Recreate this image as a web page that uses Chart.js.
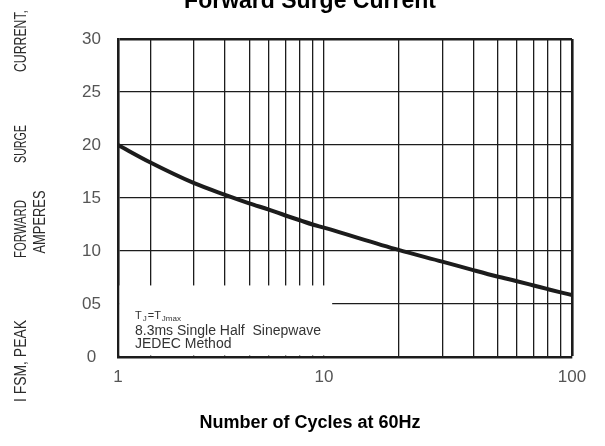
<!DOCTYPE html>
<html>
<head>
<meta charset="utf-8">
<script src="https://cdn.jsdelivr.net/npm/chart.js@4.4.1/dist/chart.umd.min.js"></script>
<style>
  body { margin: 0; background: #fff; }
  #wrap { width: 605px; height: 446px; }
</style>
</head>
<body>
<div id="wrap"><canvas id="surgeChart"></canvas></div>
<script>
// on the scanned log grid the "1" label sits where 1.48 falls
const xStart = 1.48;
const xGrid = [xStart, 2, 3, 4, 5, 6, 7, 8, 9, 10, 20, 30, 40, 50, 60, 70, 80, 90, 100];
const xLabels = { [xStart]: '1', 10: '10', 100: '100' };
const yTicks = [0, 5, 10, 15, 20, 25, 30];
const yLabels = ['0', '05', '10', '15', '20', '25', '30'];

// curve
const cycles = [xStart, 2, 3, 4, 5, 6, 7, 8, 9, 10, 20, 30, 40, 50, 60, 70, 80, 90, 100];
const surgeAmps = [20, 18.35, 16.4, 15.3, 14.5, 13.9, 13.35, 12.9, 12.5, 12.2, 10.1, 9.0, 8.2, 7.6, 7.15, 6.75, 6.4, 6.1, 5.85];

const noteLines = ['8.3ms Single Half  Sinepwave', 'JEDEC Method'];

const ink = '#1c1c1c';

// white note box in the lower left corner + its text
const notePlugin = {
    id: 'note',
    beforeDatasetsDraw(chart) {
        const { ctx, chartArea } = chart;
        const x = chart.scales.x, y = chart.scales.y;
        const right = x.getPixelForValue(10.8);
        const top = y.getPixelForValue(6.75);
        ctx.save();
        ctx.fillStyle = '#fff';
        ctx.fillRect(chartArea.left + 1.5, top, right - chartArea.left - 1.5, chartArea.bottom - 1.5 - top);

        const tx = chartArea.left + 17;
        ctx.fillStyle = '#333';
        ctx.textBaseline = 'alphabetic';
        // T_J = T_Jmax
        let cx = tx;
        const parts = [['T', 11, 0], ['J', 8, 2], ['=T', 11, 0], ['Jmax', 8, 2]];
        parts.forEach(([t, size, drop]) => {
            ctx.font = size + 'px Arial, "Liberation Sans", sans-serif';
            ctx.fillText(t, cx, 319 + drop);
            cx += ctx.measureText(t).width + 1;
        });
        ctx.font = '14px Arial, "Liberation Sans", sans-serif';
        noteLines.forEach((line, i) => ctx.fillText(line, tx, 335 + i * 13));
        ctx.restore();
    }
};

// rotated, spaced-out y title as in the datasheet
const yTitlePlugin = {
    id: 'yTitle',
    afterDraw(chart) {
        const ctx = chart.ctx;
        const words = [
            ['I FSM, PEAK', 22, 361, 82],
            ['FORWARD', 22, 229, 58],
            ['SURGE', 22, 144, 38],
            ['CURRENT,', 22, 41, 62],
            ['AMPERES', 41, 222, 63]
        ];
        ctx.save();
        ctx.fillStyle = '#2a2a2a';
        ctx.font = '16px Arial, "Liberation Sans", sans-serif';
        ctx.textAlign = 'center';
        ctx.textBaseline = 'middle';
        words.forEach(([t, px, py, len]) => {
            ctx.save();
            ctx.translate(px, py);
            ctx.rotate(-Math.PI / 2);
            ctx.fillText(t, 0, 0, len);
            ctx.restore();
        });
        ctx.restore();
    }
};

new Chart(document.getElementById('surgeChart'), {
    type: 'line',
    data: {
        datasets: [{
            data: cycles.map((c, i) => ({ x: c, y: surgeAmps[i] })),
            borderColor: ink,
            borderWidth: 4,
            pointRadius: 0,
            fill: false,
            cubicInterpolationMode: 'monotone'
        }]
    },
    options: {
        responsive: true,
        maintainAspectRatio: false,
        animation: false,
        layout: { padding: { left: 48, right: 33, top: 0, bottom: 0 } },
        plugins: {
            legend: { display: false },
            tooltip: { enabled: false },
            title: {
                display: true,
                text: 'Forward Surge Current',
                color: '#000',
                font: { family: 'Arial, "Liberation Sans", sans-serif', size: 23, weight: 'bold' },
                padding: { top: -11.8, bottom: 23.2 }
            },
            subtitle: {
                display: true,
                position: 'bottom',
                text: 'Number of Cycles at 60Hz',
                color: '#000',
                font: { family: 'Arial, "Liberation Sans", sans-serif', size: 18, weight: 'bold' },
                padding: { top: 15, bottom: 12 }
            }
        },
        scales: {
            x: {
                type: 'logarithmic',
                min: xStart,
                max: 100,
                afterBuildTicks: s => { s.ticks = xGrid.map(v => ({ value: v })); },
                ticks: {
                    autoSkip: false,
                    maxRotation: 0,
                    padding: 10,
                    color: '#555',
                    font: { family: 'Arial, "Liberation Sans", sans-serif', size: 17 },
                    callback: v => xLabels[v] || ''
                },
                grid: {
                    drawTicks: false,
                    color: ink,
                    lineWidth: c => (c.tick && c.tick.value === 100 ? 2.6 : 1.3)
                },
                border: { color: ink, width: 2.6 }
            },
            y: {
                min: 0,
                max: 30,
                afterBuildTicks: s => { s.ticks = yTicks.map(v => ({ value: v })); },
                afterFit: s => { s.width = 70; },
                ticks: {
                    padding: 17,
                    crossAlign: 'center',
                    color: '#555',
                    font: { family: 'Arial, "Liberation Sans", sans-serif', size: 17 },
                    callback: v => yLabels[yTicks.indexOf(v)]
                },
                grid: {
                    drawTicks: false,
                    color: ink,
                    lineWidth: c => (c.tick && c.tick.value === 30 ? 2.6 : 1.3)
                },
                border: { color: ink, width: 2.6 }
            }
        }
    },
    plugins: [notePlugin, yTitlePlugin]
});
</script>
</body>
</html>
